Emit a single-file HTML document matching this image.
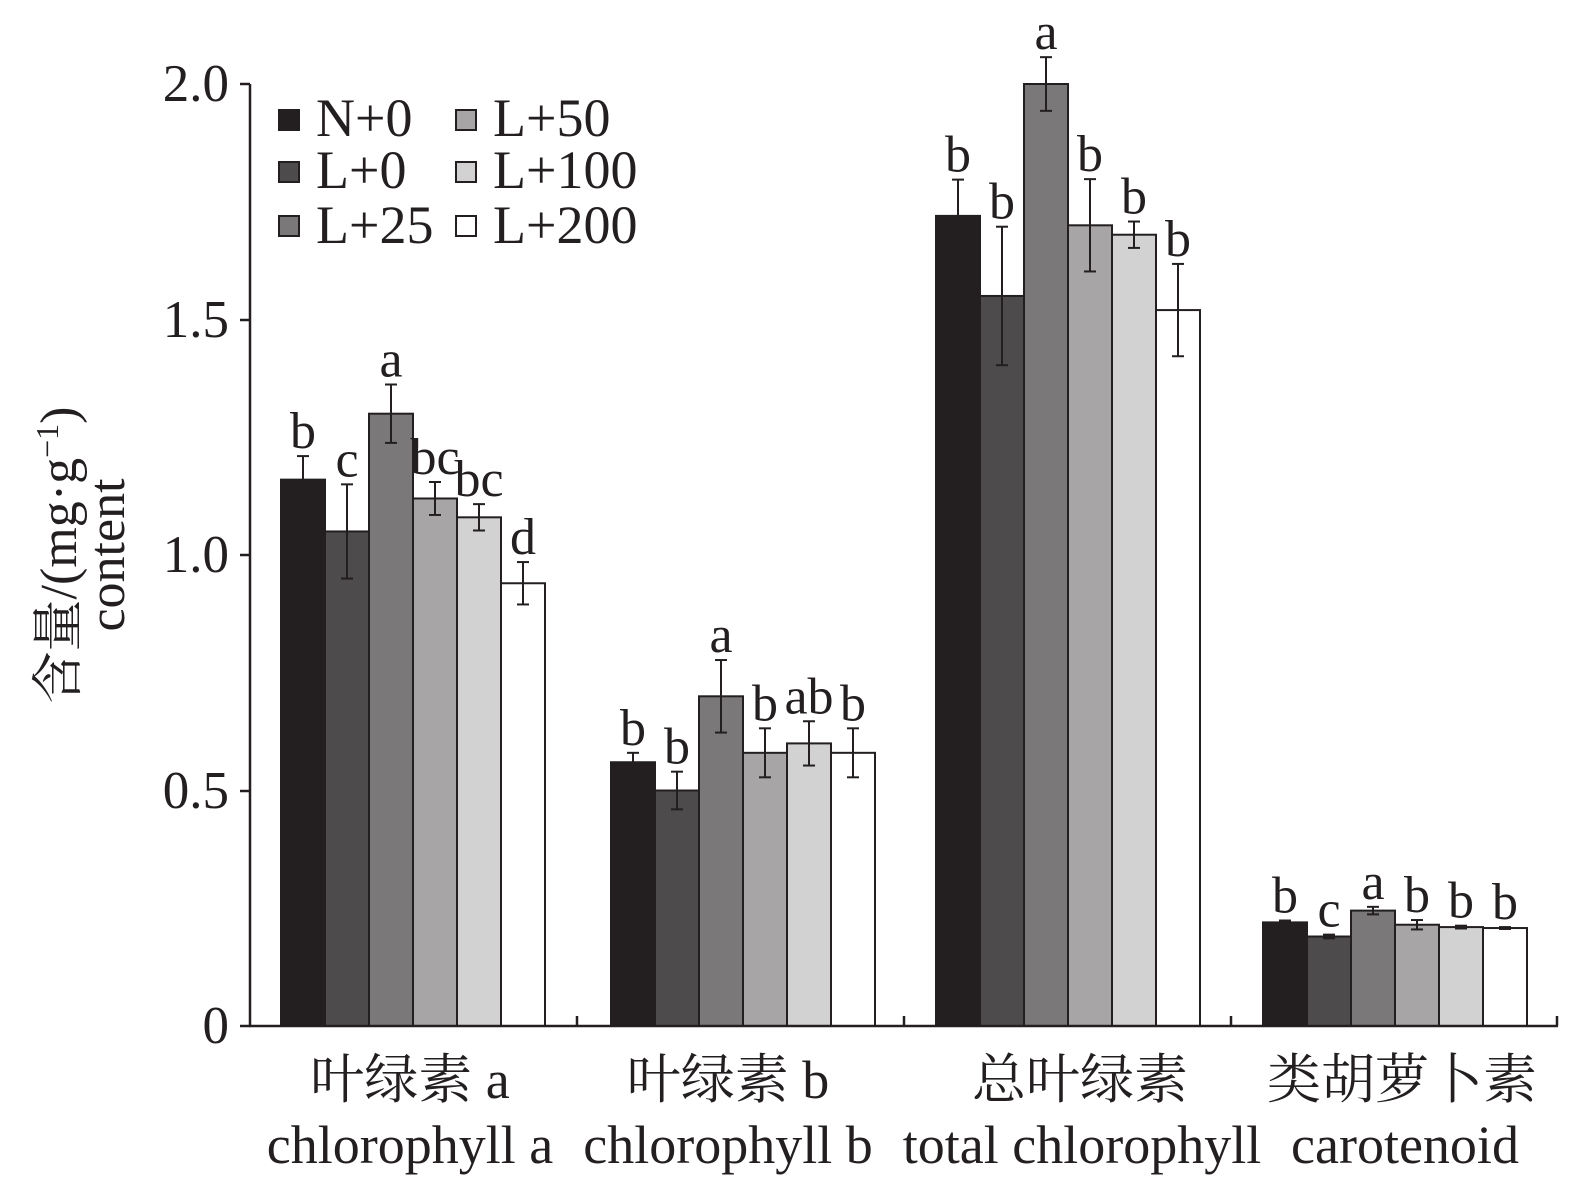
<!DOCTYPE html>
<html><head><meta charset="utf-8"><style>body{margin:0;background:#fff}svg{display:block}</style></head><body>
<svg width="1575" height="1186" xmlns="http://www.w3.org/2000/svg" font-family="'Liberation Serif','Noto Serif CJK SC',serif" fill="#231f20">
<g id="bars" stroke="#231f20" stroke-width="2"></g>
<g stroke="#231f20" stroke-width="2.5" fill="none">
<line x1="250" y1="84" x2="250" y2="1027"/>
<line x1="249" y1="1026" x2="1558" y2="1026"/>
<line x1="240" y1="84" x2="250" y2="84"/><line x1="240" y1="320" x2="250" y2="320"/><line x1="240" y1="555" x2="250" y2="555"/><line x1="240" y1="791" x2="250" y2="791"/><line x1="240" y1="1026" x2="250" y2="1026"/>
<line x1="577" y1="1016" x2="577" y2="1026"/><line x1="904" y1="1016" x2="904" y2="1026"/><line x1="1231" y1="1016" x2="1231" y2="1026"/><line x1="1557" y1="1016" x2="1557" y2="1026"/>
</g>
<g font-size="53" text-anchor="end">
<text x="229" y="101">2.0</text><text x="229" y="337">1.5</text><text x="229" y="572">1.0</text><text x="229" y="808">0.5</text><text x="229" y="1043">0</text>
</g>
<g transform="translate(76,555) rotate(-90)" font-size="52" text-anchor="middle"><text x="0" y="0">含量/(mg·g<tspan dy="-18" font-size="32">−1</tspan><tspan dy="18">)</tspan></text><text x="0" y="48">content</text></g>
<g font-size="54" text-anchor="middle">
<text x="410" y="1098">叶绿素 a</text><text x="410" y="1163">chlorophyll a</text>
<text x="728" y="1098">叶绿素 b</text><text x="728" y="1163">chlorophyll b</text>
<text x="1080" y="1098">总叶绿素</text><text x="1082" y="1163">total chlorophyll</text>
<text x="1402" y="1098">类胡萝卜素</text><text x="1405" y="1163">carotenoid</text>
</g>
<g font-size="54" stroke="#231f20" stroke-width="2">
<rect x="279" y="110" width="20" height="20" fill="#231f20"/><text x="316" y="136" stroke="none">N+0</text>
<rect x="279" y="162" width="20" height="20" fill="#4d4b4c"/><text x="316" y="188" stroke="none">L+0</text>
<rect x="279" y="216" width="20" height="20" fill="#7a7879"/><text x="316" y="243" stroke="none">L+25</text>
<rect x="456" y="110" width="20" height="20" fill="#a7a5a6"/><text x="493" y="136" stroke="none">L+50</text>
<rect x="456" y="162" width="20" height="20" fill="#d3d2d2"/><text x="493" y="188" stroke="none">L+100</text>
<rect x="456" y="216" width="20" height="20" fill="#fff"/><text x="493" y="243" stroke="none">L+200</text>
</g>
<g id="ann" font-size="52" text-anchor="middle"></g>
</svg>
<script>
var cols=["#231f20","#4d4b4c","#7a7879","#a7a5a6","#d3d2d2","#ffffff"];
var starts=[281,611,936,1263];
var data=[
[[1.16,.05,"b"],[1.05,.1,"c"],[1.30,.062,"a"],[1.12,.035,"bc"],[1.08,.028,"bc"],[0.94,.045,"d"]],
[[0.56,.02,"b"],[0.50,.04,"b"],[0.70,.077,"a"],[0.58,.052,"b"],[0.60,.047,"ab"],[0.58,.052,"b"]],
[[1.72,.077,"b"],[1.55,.147,"b"],[2.00,.057,"a"],[1.70,.098,"b"],[1.68,.028,"b"],[1.52,.098,"b"]],
[[0.22,.004,"b"],[0.19,.004,"c"],[0.245,.008,"a"],[0.215,.01,"b"],[0.21,.003,"b"],[0.208,.002,"b"]]];
function Y(v){return 1026-v*471}
var s="",a="";
data.forEach(function(g,gi){g.forEach(function(d,i){
var x=starts[gi]+i*44,cx=x+22,y=Y(d[0]);
s+='<rect x="'+x+'" y="'+y+'" width="44" height="'+(1026-y)+'" fill="'+cols[i]+'"/>';
var t=Y(d[0]+d[1]),b=Y(d[0]-d[1]);
s+='<line x1="'+cx+'" y1="'+t+'" x2="'+cx+'" y2="'+b+'"/><line x1="'+(cx-6)+'" y1="'+t+'" x2="'+(cx+6)+'" y2="'+t+'"/><line x1="'+(cx-6)+'" y1="'+b+'" x2="'+(cx+6)+'" y2="'+b+'"/>';
a+='<text x="'+cx+'" y="'+(t-8)+'">'+d[2]+'</text>';
})});
document.getElementById("bars").innerHTML=s;document.getElementById("ann").innerHTML=a;
</script>
</body></html>
